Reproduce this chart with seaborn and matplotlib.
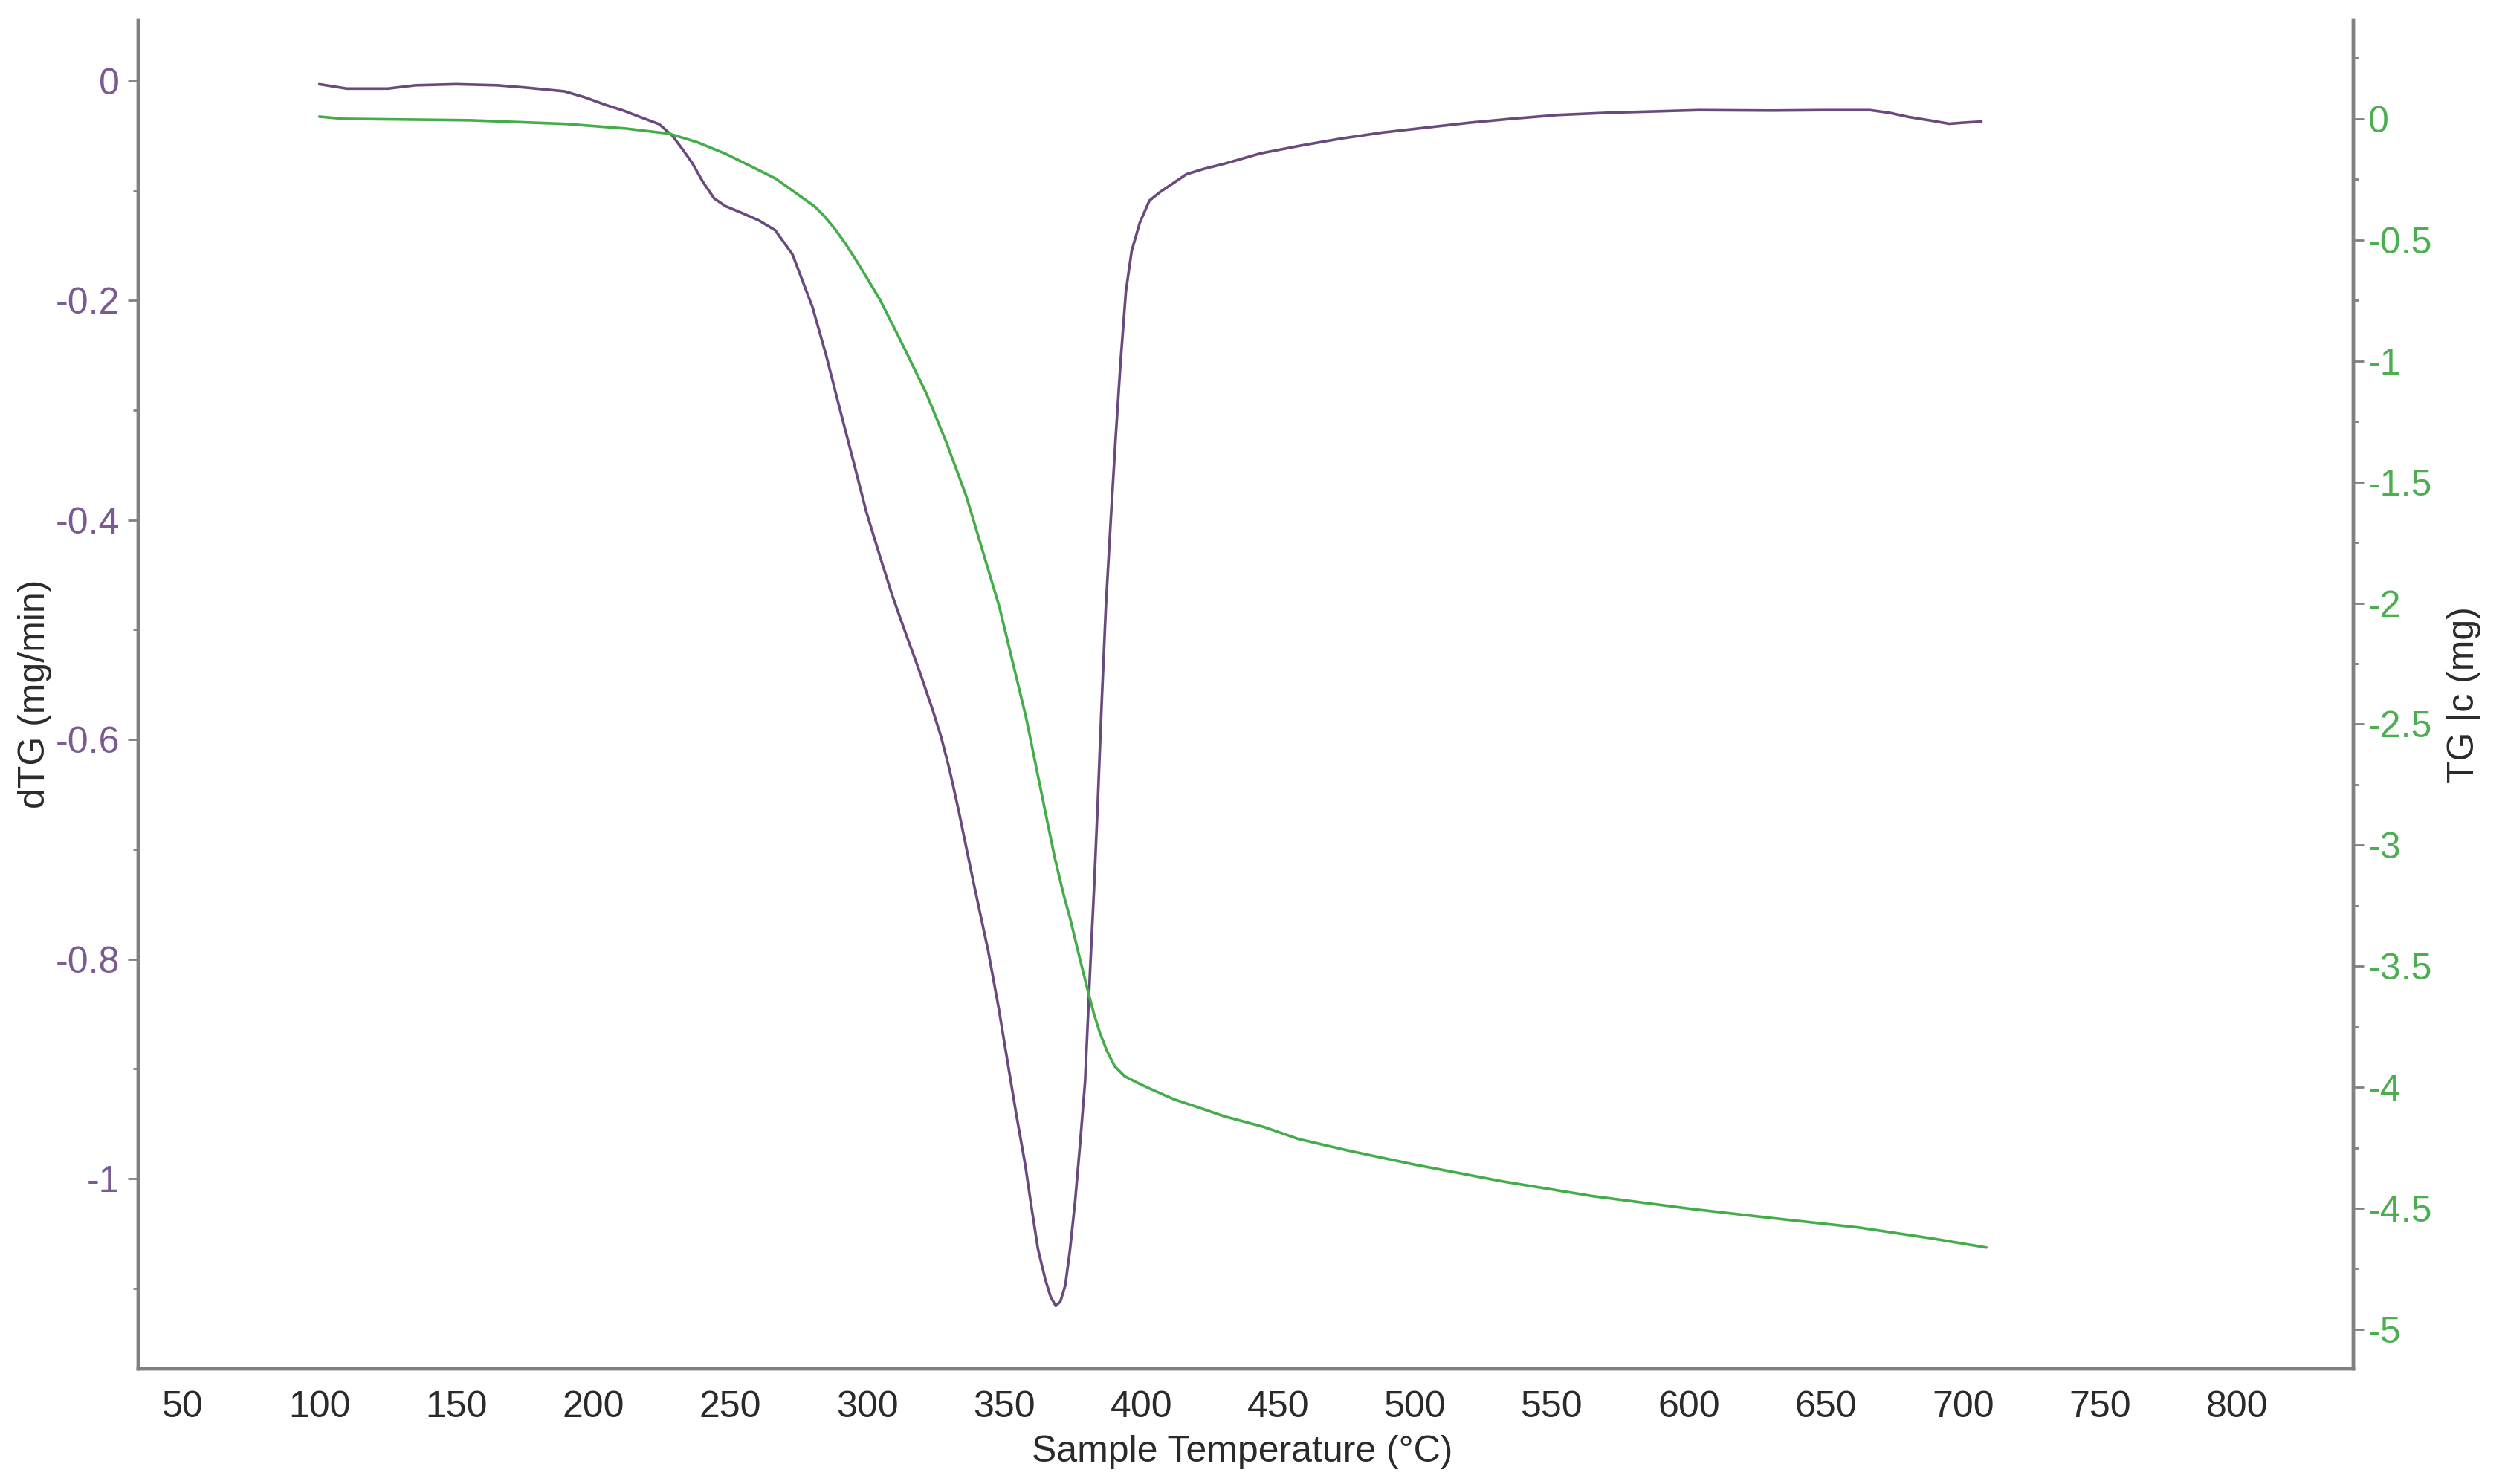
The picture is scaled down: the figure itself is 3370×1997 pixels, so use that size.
import matplotlib
matplotlib.use("Agg")
import matplotlib.pyplot as plt
import seaborn as sns
import pandas as pd
from matplotlib.ticker import MultipleLocator, FormatStrFormatter

# ---------------- data ----------------
temp_dtg = [100, 105, 110, 125, 135, 150, 165, 175, 189.5, 197, 204.7, 211, 216.7, 224,
            228.9, 232.5, 236.2, 240, 244.1, 248.2, 254, 260.4, 266.4, 272.7, 276.2, 280,
            285, 290.1, 295, 299.7, 304.5, 309.3, 314, 319.1, 324, 327, 330, 333.3, 338.6,
            344.1, 348, 351.5, 354.5, 357.7, 360, 362.3, 365, 367, 368.8, 370.5, 372.3,
            374, 375.9, 377.7, 379.5, 381.4, 382.8, 384.1, 385.6, 387.1, 389, 390.7, 392.5,
            394.4, 396.5, 399.5, 403, 407, 410.3, 416.5, 423, 431, 443.5, 458, 472.7, 488,
            503.9, 520, 535, 552, 570.4, 603.6, 630, 649, 666, 673, 680.5, 688, 695, 700,
            706.7]
dtg = [-0.003, -0.005, -0.007, -0.007, -0.004, -0.003, -0.004, -0.006, -0.0095, -0.015,
       -0.022, -0.027, -0.0325, -0.0393, -0.050, -0.062, -0.0751, -0.092, -0.107, -0.114,
       -0.120, -0.127, -0.136, -0.158, -0.181, -0.206, -0.250, -0.300, -0.347, -0.393,
       -0.432, -0.470, -0.503, -0.538, -0.574, -0.598, -0.627, -0.664, -0.728, -0.792,
       -0.845, -0.898, -0.943, -0.988, -1.027, -1.064, -1.092, -1.108, -1.116, -1.112,
       -1.097, -1.065, -1.020, -0.968, -0.912, -0.807, -0.735, -0.660, -0.565, -0.479,
       -0.395, -0.324, -0.255, -0.192, -0.155, -0.129, -0.109, -0.101, -0.0955, -0.085,
       -0.080, -0.075, -0.066, -0.059, -0.0526, -0.047, -0.0425, -0.038, -0.0345, -0.031,
       -0.029, -0.0266, -0.027, -0.0266, -0.0266, -0.029, -0.033, -0.036, -0.039, -0.038,
       -0.037]

temp_tg = [100, 108.8, 155, 190, 211.8, 227.6, 238, 248.2, 257, 266.4, 273.5, 280.8, 284,
           288, 292, 296, 300, 304.6, 313, 321.6, 329, 336.1, 342, 348.2, 353, 358, 361.7,
           365.5, 368.5, 371.8, 374, 377.3, 380.5, 382.7, 384.9, 387.5, 390.3, 394, 398.5,
           404, 412, 420, 430.3, 444.8, 457.5, 475, 500, 532, 565, 600.5, 630, 661.8, 689,
           708.5]
tg = [0.009, 0.0, -0.006, -0.021, -0.040, -0.061, -0.097, -0.144, -0.193, -0.246, -0.303,
      -0.362, -0.398, -0.452, -0.515, -0.585, -0.660, -0.746, -0.935, -1.135, -1.34, -1.557,
      -1.78, -2.015, -2.24, -2.474, -2.68, -2.89, -3.055, -3.21, -3.30, -3.455, -3.60,
      -3.695, -3.775, -3.85, -3.913, -3.955, -3.981, -4.01, -4.05, -4.08, -4.12, -4.164,
      -4.214, -4.26, -4.32, -4.389, -4.45, -4.502, -4.54, -4.579, -4.625, -4.662]

x_ticks = list(range(50, 801, 50))
dtg_ticks = [0, -0.2, -0.4, -0.6, -0.8, -1.0]
tg_ticks = [0, -0.5, -1, -1.5, -2, -2.5, -3, -3.5, -4, -4.5, -5]

x_label = "Sample Temperature (°C)"
dtg_label = "dTG (mg/min)"
tg_label = "TG |c (mg)"

# ---------------- style ----------------
sns.set_style("white")
plt.rcParams["font.family"] = ["Liberation Sans Narrow", "Liberation Sans", "DejaVu Sans"]
plt.rcParams["axes.unicode_minus"] = False

purple = "#6a4a7e"
purple_lbl = "#7a5a92"
green = "#44ad4a"
green_lbl = "#4cae50"
spine_c = "#808080"
txt_c = "#2a2a2a"
fs = 18

df_dtg = pd.DataFrame({"T": temp_dtg, "dTG": dtg})
df_tg = pd.DataFrame({"T": temp_tg, "TG": tg})

fig = plt.figure(figsize=(16.85, 9.985), dpi=200)
ax = fig.add_axes([0.0552, 0.0776, 0.8843, 0.9089])
ax2 = ax.twinx()

sns.lineplot(data=df_dtg, x="T", y="dTG", ax=ax, color=purple, linewidth=1.3,
             sort=False, estimator=None)
sns.lineplot(data=df_tg, x="T", y="TG", ax=ax2, color=green, linewidth=1.3,
             sort=False, estimator=None)

ax.set_xlim(33.9, 842.5)
ax.set_ylim(-1.1733, 0.0555)
ax2.set_ylim(-5.163, 0.408)

ax.set_xticks(x_ticks)
ax.set_yticks(dtg_ticks)
ax2.set_yticks(tg_ticks)
ax.xaxis.set_minor_locator(MultipleLocator(25))
ax.yaxis.set_minor_locator(MultipleLocator(0.1))
ax2.yaxis.set_minor_locator(MultipleLocator(0.25))
ax.xaxis.set_major_formatter(FormatStrFormatter("%g"))
ax.yaxis.set_major_formatter(FormatStrFormatter("%g"))
ax2.yaxis.set_major_formatter(FormatStrFormatter("%g"))

ax.set_xlabel("")
ax.set_ylabel("")
ax2.set_ylabel("")

for a in (ax, ax2):
    a.grid(False)
    a.spines["top"].set_visible(False)
    for s in ("left", "right", "bottom"):
        a.spines[s].set_color(spine_c)
        a.spines[s].set_linewidth(1.6)

ax.tick_params(axis="x", which="major", direction="out", length=6.5, width=1.0,
               color=spine_c, pad=4, labelsize=fs, labelcolor=txt_c)
ax.tick_params(axis="x", which="minor", direction="out", length=3.5, width=1.0, color=spine_c)
ax.tick_params(axis="y", which="major", direction="out", length=5, width=1.0,
               color=spine_c, pad=4, labelsize=fs, labelcolor=purple_lbl)
ax.tick_params(axis="y", which="minor", direction="out", length=2.5, width=1.0, color=spine_c)
ax2.tick_params(axis="y", which="major", direction="out", length=5, width=1.0,
                color=spine_c, pad=2, labelsize=fs, labelcolor=green_lbl)
ax2.tick_params(axis="y", which="minor", direction="out", length=2.5, width=1.0, color=spine_c)

fig.text(1671 / 3370, 1 - 1967 / 1997, x_label, ha="center", va="baseline",
         fontsize=fs, color=txt_c)
fig.text(47 / 3370, 1 - 934 / 1997, dtg_label, ha="center", va="center",
         rotation=90, fontsize=fs, color=txt_c)
fig.text(3315 / 3370, 1 - 935 / 1997, tg_label, ha="center", va="center",
         rotation=90, fontsize=fs, color=txt_c)

fig.savefig("out.png", dpi=200, facecolor="white")
